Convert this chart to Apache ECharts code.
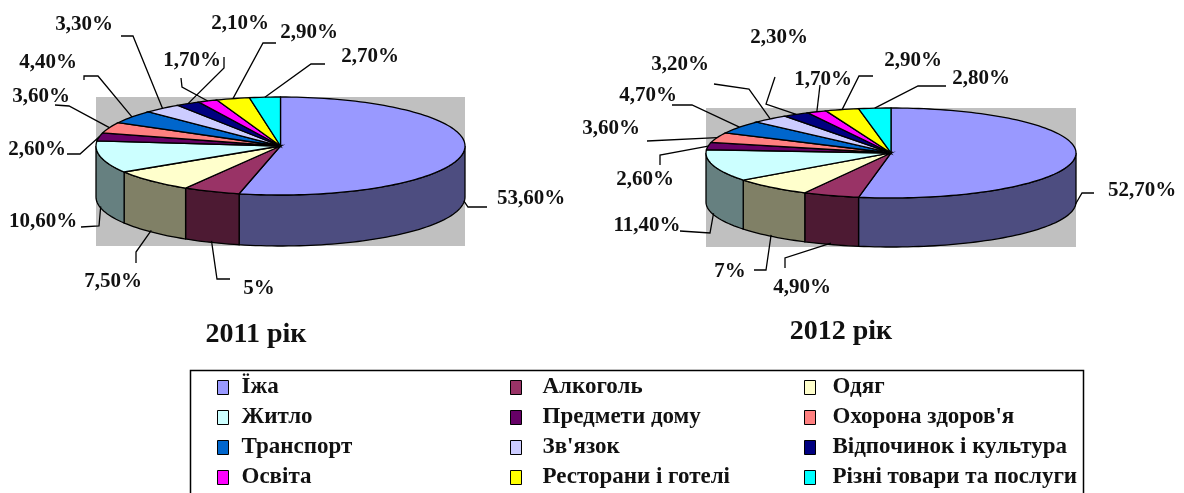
<!DOCTYPE html>
<html><head><meta charset="utf-8">
<style>html,body{margin:0;padding:0;background:#fff}#c{width:1184px;height:493px}</style>
<script src="https://cdn.jsdelivr.net/npm/echarts@6/dist/echarts.min.js"></script>
</head><body><div id="c"></div>
<script>
// ---- data ----
const categories = ['Їжа','Алкоголь','Одяг','Житло','Предмети дому',"Охорона здоров'я",'Транспорт',"Зв'язок",'Відпочинок і культура','Освіта','Ресторани і готелі','Різні товари та послуги'];
const values2011 = [53.6,5,7.5,10.6,2.6,3.6,4.4,3.3,2.1,1.7,2.9,2.7];
const values2012 = [52.7,4.9,7,11.4,2.6,3.6,4.7,3.2,2.3,1.7,2.9,2.8];
const labels2011 = ['53,60%','5%','7,50%','10,60%','2,60%','3,60%','4,40%','3,30%','2,10%','1,70%','2,90%','2,70%'];
const labels2012 = ['52,70%','4,90%','7%','11,40%','2,60%','3,60%','4,70%','3,20%','2,30%','1,70%','2,90%','2,80%'];
const titles = ['2011 рік','2012 рік'];
const legendColumns = [[0,3,6,9],[1,4,7,10],[2,5,8,11]];
// ---- style ----
const topColors  = ['#9999FF','#993366','#FFFFCC','#CCFFFF','#660066','#FF8080','#0066CC','#CCCCFF','#000080','#FF00FF','#FFFF00','#00FFFF'];
const wallColors = ['#4D4D80','#4D1A33','#808066','#668080','#330033','#804040','#003366','#666680','#000040','#800080','#808000','#008080'];
const FONT = '"Liberation Serif"';
// ---- layout: label centres and leader elbows, in page pixels ----
const labelPos2011 = [[531,199],[259,289],[113,282],[43,222],[37,150],[41,97],[48,63],[84,25],[240,24],[192,61],[309,33],[370,57]];
const labelPos2012 = [[1142,191],[802,288],[730,272],[647,226],[645,180],[611,129],[648,96],[680,65],[779,38],[823,80],[913,61],[981,79]];
const elbows2011 = [[[468,207],[487,207]],[[217,279],[230,279]],[[136,252],[136,263]],[[99,226],[81,227]],[[80,154],[67,154]],[[69,106],[55,105]],[[98,76],[84,76],[84,80]],[[133,36],[121,36]],[[224,68],[224,57]],[[182,87],[181,78]],[[263,43],[276,43]],[[311,64],[325,64]]];
const elbows2012 = [[[1082,193],[1094,193]],[[785,258],[785,268]],[[766,270],[754,270]],[[710,233],[680,231]],[[660,155],[660,165]],[[647,141]],[[692,105],[672,105]],[[749,89],[714,84]],[[766,104],[775,77]],[[820,85]],[[859,76],[873,76]],[[918,86],[946,86]]];
const pies = [
  {values:values2011,labels:labels2011,pos:labelPos2011,elbows:elbows2011,grid:{left:96,top:97,width:369,height:149},yMin:-2.04},
  {values:values2012,labels:labels2012,pos:labelPos2012,elbows:elbows2012,grid:{left:706,top:108,width:370,height:139},yMin:-2.09}
];
const titlePos = [[256,335],[841,332]];

function arc(a0,a1){const n=Math.max(2,Math.ceil((a1-a0)/0.03)),o=[];for(let i=0;i<=n;i++){o.push(a0+(a1-a0)*i/n);}return o;}

function makeSeries(p,pi){
  const total=p.values.reduce((s,v)=>s+v,0);
  let cum=0;
  return p.values.map((v,i)=>{
    const start=cum; cum+=v;
    return {
      type:'custom',name:categories[i],coordinateSystem:'cartesian2d',xAxisIndex:pi,yAxisIndex:pi,
      itemStyle:{color:topColors[i],borderColor:'#000',borderWidth:1},
      data:[[v,start,total]],silent:true,clip:false,z:10+i,
      renderItem:(params,api)=>{
        const val=api.value(0),st=api.value(1),tot=api.value(2);
        const depth=-1-p.yMin;
        const a0=st/tot*2*Math.PI,a1=(st+val)/tot*2*Math.PI;
        const pt=(a,dz)=>api.coord([Math.sin(a),Math.cos(a)-(dz||0)]);
        const kids=[];
        const wa0=Math.max(a0,Math.PI/2),wa1=Math.min(a1,Math.PI*1.5);
        if(wa1>wa0){
          const as=arc(wa0,wa1);
          const pts=as.map(a=>pt(a,0)).concat(as.slice().reverse().map(a=>pt(a,depth)));
          kids.push({type:'polygon',shape:{points:pts},style:{fill:wallColors[i],stroke:'#000',lineWidth:1.3}});
        }
        const top=[api.coord([0,0])].concat(arc(a0,a1).map(a=>pt(a,0)));
        kids.push({type:'polygon',shape:{points:top},style:{fill:topColors[i],stroke:'#000',lineWidth:1.3}});
        const mid=(a0+a1)/2,front=Math.cos(mid)<0;
        const anchor=pt(mid,front?depth*0.97:0);
        kids.push({type:'polyline',z2:20,shape:{points:[anchor].concat(p.elbows[i])},style:{fill:null,stroke:'#000',lineWidth:1.3}});
        kids.push({type:'text',z2:30,style:{text:p.labels[i],x:p.pos[i][0],y:p.pos[i][1],align:'center',verticalAlign:'middle',font:'bold 21px '+FONT,fill:'#111'}});
        return {type:'group',children:kids};
      }
    };
  });
}
const legendTextPad=[8,16,12];
const option={
  animation:false,backgroundColor:'#fff',
  grid:pies.map(p=>Object.assign({show:true,backgroundColor:'#C0C0C0',borderWidth:0},p.grid)),
  xAxis:pies.map((p,i)=>({type:'value',gridIndex:i,min:-1,max:1,show:false})),
  yAxis:pies.map((p,i)=>({type:'value',gridIndex:i,min:p.yMin,max:1,show:false})),
  legend:legendColumns.map((col,i)=>({
    orient:'vertical',left:[217,510,804][i],top:376,padding:0,selectedMode:false,
    data:col.map(k=>categories[k]),icon:'rect',itemWidth:11,itemHeight:14,itemGap:7,
    itemStyle:{borderColor:'#000',borderWidth:1},
    textStyle:{fontFamily:FONT,fontWeight:'bold',fontSize:23,color:'#111',padding:[0,0,0,legendTextPad[i]]}
  })),
  series:pies.flatMap(makeSeries),
  graphic:[
    {type:'rect',shape:{x:190.5,y:370.5,width:893,height:130},style:{fill:'none',stroke:'#000',lineWidth:1.5},z:1},
    ...titles.map((t,i)=>({type:'text',style:{text:t,x:titlePos[i][0],y:titlePos[i][1],align:'center',verticalAlign:'middle',font:'bold 28px '+FONT,fill:'#111'},z:5}))
  ]
};
echarts.init(document.getElementById('c'),null,{renderer:'canvas'}).setOption(option);
</script></body></html>
